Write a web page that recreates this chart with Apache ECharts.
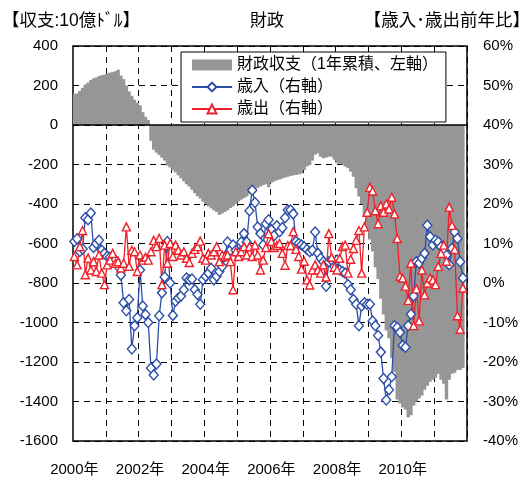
<!DOCTYPE html>
<html><head><meta charset="utf-8">
<script src="https://cdn.jsdelivr.net/npm/echarts@6/dist/echarts.min.js"></script>
<style>html,body{margin:0;padding:0;background:#fff}#c{width:532px;height:477px}</style>
</head><body><div id="c"></div>
<script>
const years = [2000,2001,2002,2003,2004,2005,2006,2007,2008,2009,2010,2011];
const yearLabels = ['2000年','2002年','2004年','2006年','2008年','2010年'];

// 財政収支（1年累積, 10億ドル）
const balance = [
  155,160,172,188,205,215,228,236,240,248,252,255,
  262,265,268,272,280,250,232,200,170,148,128,112,
  100,65,42,25,-80,-125,-140,-152,-165,-180,-205,-215,
  -230,-240,-255,-270,-285,-300,-312,-328,-345,-360,-372,-388,
  -400,-412,-422,-432,-440,-455,-448,-440,-432,-420,-412,-400,
  -387,-378,-370,-362,-350,-340,-330,-318,-311,-305,-300,-315,
  -292,-286,-280,-276,-270,-266,-262,-258,-255,-253,-250,-246,
  -228,-210,-202,-180,-150,-143,-160,-168,-165,-160,-160,-175,
  -194,-196,-200,-210,-218,-236,-262,-320,-362,-400,-460,-520,
  -580,-640,-720,-780,-880,-960,-1040,-1080,-1180,-1250,-1390,-1410,
  -1430,-1440,-1480,-1470,-1420,-1400,-1385,-1370,-1340,-1320,-1300,-1290,
  -1280,-1260,-1290,-1310,-1390,-1290,-1260,-1255,-1240,-1240,-1230
];
// 歳入 前年比（%）
const revenue = [
  10.5,11.2,8,8.6,16.5,16,17.7,9,10,10.8,8.3,7.5,
  6.7,6.5,6.2,5.8,4.2,2,-5,-7,-4.2,-16.7,-10.8,-8.8,
  3.3,-5.8,-8,-10,-21.5,-23.3,-20.5,-8.3,-2.5,1.5,10.5,0,
  -8.2,-4.6,-3.8,-3.3,-1.7,1.25,0.8,1,-1.7,-2.9,-5.4,0.8,
  1.7,2.5,3.75,0.8,1.7,2.9,4.2,6.7,10.4,8.3,9.6,8.3,
  7.5,10.4,12.5,10.4,18.3,23.5,20.4,14.2,12.5,9.6,15,16,
  13.5,12,14.5,13,14,16.5,18.5,18.5,17.5,10.5,10,9.6,
  9.2,8.5,7.9,8.3,12.9,7.5,6.25,5.4,-0.8,5.4,5.8,4.2,
  5.8,3.3,2.9,2.5,-0.4,-1.7,-4.2,-5.4,-10.8,-5.8,-5,-5.4,
  -5.4,-9.6,-10.8,-13.3,-17.5,-24.2,-29.6,-27,-23.75,-10.8,-11.25,-12.5,
  -15.8,-16.25,-10.8,-7.9,-3.3,5.4,5,6.25,7.5,14.6,11.7,9.6,
  10.8,10.4,9.2,8.3,7,4.6,8.75,12.9,11.25,5.4,1.25
];
// 歳出 前年比（%）
const outlays = [
  6.7,4.6,9.2,13.3,2.1,6.3,3.3,5.4,2.9,7.1,2.5,-0.4,
  4.6,5.8,7.5,5,5.4,3.8,5,14.2,4.2,8.3,7.9,2.9,
  7.1,5.8,6.5,5.8,7.9,10.8,9.2,11.3,-0.4,9.6,5,10,
  6.7,9.6,8.3,7.1,7.9,6.25,5.2,7.5,8.5,9.2,10.6,6.25,
  5.8,7.5,7.1,7.9,9.2,5.4,7.1,6.7,7.1,5.4,-1.7,7.9,
  6.7,7.9,9.2,7.1,9.2,6.7,9.6,7.1,3.3,5.8,9,12.5,
  10.5,9,9.5,10,7.5,4.5,9.5,9.5,13,8.5,6.7,3.5,
  5.5,0.8,-0.5,3.3,4.6,3.3,2.5,4.6,1.5,12.5,6.5,4,
  3.3,6.25,9.2,9.6,2.5,6,8.75,10.8,13.3,2.5,14.2,17.9,
  24.2,23.3,18.3,15,19.6,17.9,20,18.75,21.7,17.5,11.25,1.7,
  1.25,-0.8,-4.4,5,-10.8,-1.5,-9.6,3.3,-3,0,1.25,0.8,
  -0.4,4.2,7.5,9.6,5.5,19.2,14.6,8.5,-8.3,-11.7,-1.25
];

const categories = [];
years.forEach(y => { for (let m = 1; m <= 12; m++) categories.push(y + '/' + m); });

const FONT = 'Liberation Sans, Noto Sans CJK JP, sans-serif';
const BLUE = '#2b4ea8';
const RED = '#f0202a';
const GRAY = '#969696';
const nBar = '財政収支（1年累積、左軸）';
const nRev = '歳入（右軸）';
const nOut = '歳出（右軸）';
const dash = { color: '#000', width: 1, type: [6, 5] };

const chart = echarts.init(document.getElementById('c'), null, { renderer: 'canvas' });
chart.setOption({
  animation: false,
  backgroundColor: '#fff',
  textStyle: { fontFamily: FONT, color: '#000' },
  graphic: [
    { type: 'text', left: 2, top: 12, style: { text: '【収支:10億ﾄﾞﾙ】', font: '17.5px ' + FONT, fill: '#000' } },
    { type: 'text', left: 250, top: 13, style: { text: '財政', font: '17px ' + FONT, fill: '#000' } },
    { type: 'text', right: 2, top: 12, style: { text: '【歳入･歳出前年比】', font: '17.5px ' + FONT, fill: '#000' } }
  ],
  grid: { left: 73, right: 65, top: 46, bottom: 35, show: true, borderColor: '#000', borderWidth: 1.5, backgroundColor: 'transparent' },
  legend: {
    orient: 'vertical', left: 181, top: 52,
    padding: [5, 8, 5, 10], itemGap: 6, itemWidth: 40, itemHeight: 11,
    borderColor: '#000', borderWidth: 1, backgroundColor: '#fff',
    textStyle: { fontSize: 16, color: '#000', fontFamily: FONT, lineHeight: 16 },
    data: [{ name: nBar, icon: 'rect' }, { name: nRev }, { name: nOut }]
  },
  xAxis: {
    type: 'category', data: categories, boundaryGap: true,
    axisLine: { show: false }, axisTick: { show: false },
    axisLabel: {
      interval: (i) => i % 24 === 0,
      formatter: (v, i) => yearLabels[Math.round(i / 24)],
      fontSize: 15, color: '#000', margin: 21, fontFamily: FONT
    },
    splitLine: { show: true, interval: (i) => i % 12 === 0 && i > 0, lineStyle: dash }
  },
  yAxis: [
    {
      type: 'value', min: -1600, max: 400, interval: 200, position: 'left',
      axisLine: { show: false }, axisTick: { show: false },
      axisLabel: { formatter: (v) => String(v), fontSize: 15, color: '#000', margin: 15, fontFamily: FONT },
      splitLine: { show: true, lineStyle: dash }
    },
    {
      type: 'value', min: -40, max: 60, interval: 10, position: 'right',
      axisLine: { show: false }, axisTick: { show: false },
      axisLabel: { formatter: (v) => v + '%', fontSize: 15, color: '#000', margin: 16, fontFamily: FONT },
      splitLine: { show: false }
    }
  ],
  series: [
    {
      name: nBar, type: 'bar', yAxisIndex: 0, data: balance,
      barWidth: 3.4, itemStyle: { color: GRAY },
      markLine: {
        silent: true, symbol: ['none', 'none'], label: { show: false },
        lineStyle: { color: '#000', type: 'solid', width: 1.5 },
        data: [{ yAxis: 0 }]
      }
    },
    {
      name: nRev, type: 'line', yAxisIndex: 1, data: revenue,
      symbol: 'diamond', symbolSize: [9, 10], showAllSymbol: true,
      itemStyle: { color: '#fff', borderColor: BLUE, borderWidth: 1.4 },
      lineStyle: { color: BLUE, width: 1.3 }
    },
    {
      name: nOut, type: 'line', yAxisIndex: 1, data: outlays,
      symbol: 'triangle', symbolSize: 8, showAllSymbol: true,
      itemStyle: { color: '#fff', borderColor: RED, borderWidth: 1.4 },
      lineStyle: { color: RED, width: 1.3 }
    }
  ]
});
</script></body></html>
